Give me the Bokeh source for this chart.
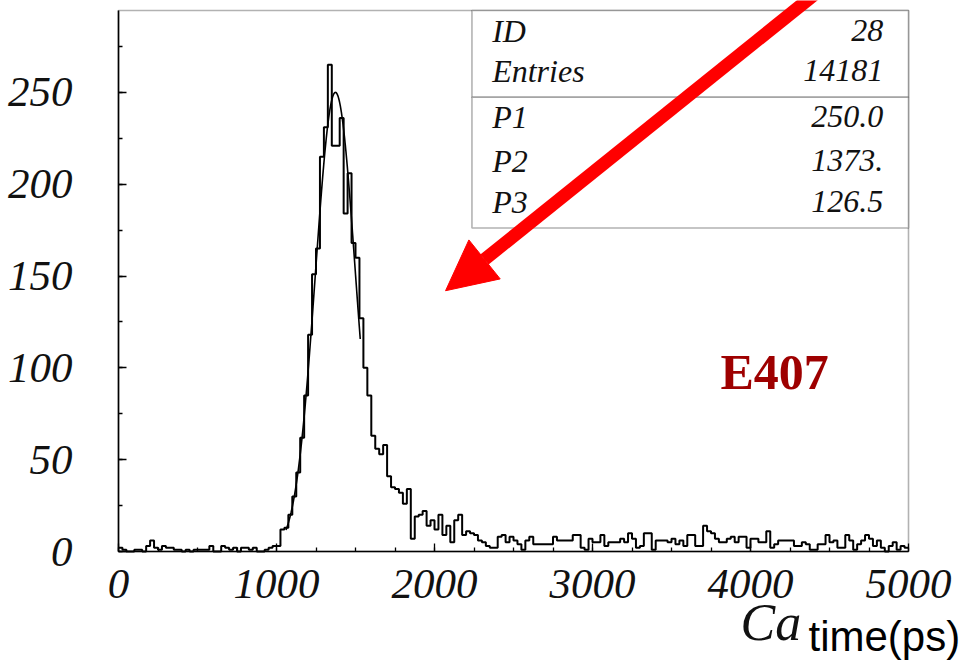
import numpy as np
from bokeh.plotting import figure
from bokeh.models import (Range1d, SingleIntervalTicker, Label, Arrow,
                          NormalHead, BoxAnnotation, LinearAxis)
from bokeh.embed import file_html
from bokeh.resources import INLINE

# Histogram: 200 bins of 25 ps from 0 to 5000 ps
bin_width = 25
counts = [
    2, 1, 0, 0, 1, 1, 0, 3, 6, 2, 1, 3, 2, 2, 1, 1, 0, 1, 0, 1,
    1, 1, 1, 3, 0, 0, 3, 2, 1, 2, 0, 2, 2, 1, 2, 0, 0, 1, 2, 3,
    3, 12, 13, 20, 30, 43, 62, 85, 118, 151, 165, 215, 231, 265, 221, 221, 236, 184, 206, 168,
    160, 127, 100, 85, 63, 56, 53, 58, 41, 35, 34, 32, 26, 34, 7, 19, 20, 22, 14, 17,
    12, 20, 9, 14, 5, 17, 20, 9, 11, 10, 9, 6, 5, 3, 2, 2, 8, 9, 5, 8,
    6, 4, 1, 6, 8, 4, 4, 4, 4, 4, 8, 6, 6, 6, 6, 9, 9, 2, 1, 7,
    5, 5, 9, 3, 5, 5, 5, 7, 5, 10, 7, 2, 3, 10, 10, 1, 6, 6, 6, 5,
    7, 4, 6, 3, 9, 9, 3, 3, 14, 11, 10, 7, 5, 5, 7, 8, 5, 8, 8, 2,
    7, 7, 5, 5, 11, 2, 4, 6, 6, 6, 6, 3, 3, 5, 4, 1, 1, 4, 4, 9,
    5, 6, 2, 2, 9, 6, 1, 4, 6, 9, 7, 3, 6, 2, 0, 3, 5, 1, 3, 2,
]

# Gaussian fit parameters (P1 amplitude, P2 mean, P3 sigma) and fit range
fit_amp = 250.0
fit_mean = 1373.0
fit_sigma = 126.5
fit_range = (1060, 1530)

# Statistics box contents
stat_names = ["ID", "Entries", "P1", "P2", "P3"]
stat_values = ["28", "14181", "250.0", "1373.", "126.5"]

# Histogram frame limits
x_lo, x_hi = 0, 5000
y_lo, y_hi = 0, 294.6

# The drawing area covers the whole canvas; both axes are pinned to the
# histogram's origin and the histogram frame is drawn as a box, so the tick
# labels and the axis title below the axis stay visible.
W, H = 967, 663
frame_px = (118, 908, 10, 551)          # left, right, top, bottom of the box
px_per_x = (frame_px[1] - frame_px[0]) / (x_hi - x_lo)
px_per_y = (frame_px[3] - frame_px[2]) / (y_hi - y_lo)
view_x = (x_lo - frame_px[0] / px_per_x, x_lo + (W - frame_px[0]) / px_per_x)
view_y = (y_lo - (H - frame_px[3]) / px_per_y, y_lo + frame_px[3] / px_per_y)

p = figure(width=W, height=H, output_backend="svg", toolbar_location=None,
           x_range=Range1d(*view_x), y_range=Range1d(*view_y),
           x_axis_location=None, y_axis_location=None,
           min_border_left=0, min_border_right=0,
           min_border_top=0, min_border_bottom=0)
p.background_fill_color = "white"
p.border_fill_color = "white"
p.grid.visible = False
p.outline_line_color = None

xaxis = LinearAxis(fixed_location=y_lo, bounds=(x_lo, x_hi),
                   ticker=SingleIntervalTicker(interval=1000, num_minor_ticks=4))
yaxis = LinearAxis(fixed_location=x_lo, bounds=(y_lo, y_hi),
                   ticker=SingleIntervalTicker(interval=50, num_minor_ticks=2))
p.add_layout(xaxis, "below")
p.add_layout(yaxis, "left")

# Axes: inward ticks, italic serif numbers
for ax in (xaxis, yaxis):
    ax.axis_line_color = "black"
    ax.axis_line_width = 1.6
    ax.major_tick_in = 8
    ax.major_tick_out = 0
    ax.minor_tick_in = 4
    ax.minor_tick_out = 0
    ax.major_tick_line_width = 1.3
    ax.minor_tick_line_width = 1.3
    ax.major_label_text_font = "Liberation Serif"
    ax.major_label_text_font_style = "italic"
    ax.major_label_text_font_size = "43px"
    ax.major_label_text_color = "#111111"
xaxis.major_label_standoff = 18
yaxis.major_label_standoff = 46

# Frame box around the histogram
p.add_layout(BoxAnnotation(left=x_lo, right=x_hi, bottom=y_lo, top=y_hi,
                           fill_alpha=0, line_color="black", line_width=1.6))

# Histogram outline
edges = np.arange(len(counts) + 1) * bin_width
step_y = list(counts) + [counts[-1]]
p.step(edges, step_y, mode="after", line_color="black", line_width=2)

# Fitted Gaussian over the fit range
fx = np.linspace(fit_range[0], fit_range[1], 300)
fy = fit_amp * np.exp(-0.5 * ((fx - fit_mean) / fit_sigma) ** 2)
p.line(fx, fy, line_color="black", line_width=1.6)

# Statistics box
box_left = 2237
box_mid = 247.4
box_bottom = 176.2
p.add_layout(BoxAnnotation(left=box_left, right=x_hi, bottom=box_mid, top=y_hi,
                           fill_color="white", fill_alpha=1.0,
                           line_color="black", line_width=1.6))
p.add_layout(BoxAnnotation(left=box_left, right=x_hi, bottom=box_bottom, top=box_mid,
                           fill_color="white", fill_alpha=1.0,
                           line_color="black", line_width=1.6))

row_y = [283.5, 261.7, 236.7, 212.7, 190.4]
for name, val, yy in zip(stat_names, stat_values, row_y):
    p.add_layout(Label(x=2365, y=yy, text=name, text_font="Liberation Serif",
                       text_font_style="italic", text_font_size="32px",
                       text_color="#111111", text_align="left",
                       text_baseline="alphabetic"))
    p.add_layout(Label(x=4840, y=yy, text=val, text_font="Liberation Serif",
                       text_font_style="italic", text_font_size="32px",
                       text_color="#111111", text_align="right",
                       text_baseline="alphabetic"))

# Experiment tag
p.add_layout(Label(x=3810, y=98.0, text="E407", text_font="Liberation Serif",
                   text_font_style="bold", text_font_size="50px",
                   text_color="#9e0000", text_align="left",
                   text_baseline="alphabetic"))

# Axis title below the x axis
p.add_layout(Label(x=3937, y=-38.7, text="Ca", text_font="Liberation Serif",
                   text_font_style="italic", text_font_size="52px",
                   text_color="#111111", text_align="left",
                   text_baseline="alphabetic"))
p.add_layout(Label(x=4367, y=-46.5, text="time(ps)", text_font="Liberation Sans",
                   text_font_size="42px", text_color="black", text_align="left",
                   text_baseline="alphabetic"))

# Red pointer arrow
p.add_layout(Arrow(x_start=4400, y_start=303, x_end=2070, y_end=142,
                   line_color="#ff0000", line_width=13,
                   end=NormalHead(size=50, fill_color="#ff0000",
                                  line_color="#ff0000", line_width=1)))

open("out.html", "w").write(file_html(p, INLINE))
